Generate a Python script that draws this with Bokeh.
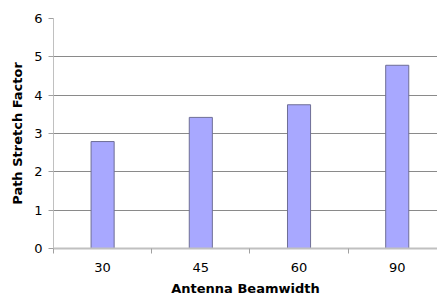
from bokeh.plotting import figure
from bokeh.models import FixedTicker, Range1d, ColumnDataSource
from bokeh.embed import file_html
from bokeh.resources import INLINE

categories = ["30", "45", "60", "90"]
stretch = [2.79, 3.42, 3.75, 4.78]
y_ticks = [0, 1, 2, 3, 4, 5, 6]

xpos = [i + 0.5 for i in range(len(categories))]
src = ColumnDataSource(dict(x=xpos, top=stretch))

W, H = 437, 298
p = figure(width=W, height=H, output_backend="svg", toolbar_location=None,
           x_range=Range1d(0, 3.91), y_range=Range1d(0, 6),
           min_border_left=53, min_border_top=18, min_border_bottom=50, min_border_right=0)
p.outline_line_color = None
p.background_fill_color = "white"
p.border_fill_color = "white"

p.vbar(x="x", top="top", width=0.235, bottom=0, source=src,
       fill_color="#a8a8ff", line_color="#6e6e96", line_width=1)

font = "DejaVu Sans"
xa = p.xaxis[0]
xa.ticker = FixedTicker(ticks=xpos, minor_ticks=list(range(len(categories) + 1)))
xa.major_label_overrides = {x: c for x, c in zip(xpos, categories)}
xa.major_tick_out = 0
xa.major_tick_in = 0
xa.minor_tick_out = 5
xa.minor_tick_in = 0
xa.minor_tick_line_color = "#a0a0a0"
xa.axis_line_color = "#c0c0c0"
xa.axis_line_width = 2
xa.major_label_text_font = font
xa.major_label_text_font_size = "13px"
xa.major_label_text_color = "black"
xa.major_label_standoff = 9
xa.axis_label = "Antenna Beamwidth"
xa.axis_label_text_font = font
xa.axis_label_text_font_size = "13px"
xa.axis_label_text_font_style = "bold"
xa.axis_label_text_color = "black"
xa.axis_label_standoff = 6

ya = p.yaxis[0]
ya.ticker = FixedTicker(ticks=y_ticks)
ya.minor_tick_line_color = None
ya.major_tick_out = 5
ya.major_tick_in = 0
ya.major_tick_line_color = "#a0a0a0"
ya.axis_line_color = "#c0c0c0"
ya.axis_line_width = 1
ya.major_label_text_font = font
ya.major_label_text_font_size = "13px"
ya.major_label_text_color = "black"
ya.major_label_standoff = 6
ya.axis_label = "Path Stretch Factor"
ya.axis_label_text_font = font
ya.axis_label_text_font_size = "13px"
ya.axis_label_text_font_style = "bold"
ya.axis_label_text_color = "black"
ya.axis_label_standoff = 6

p.xgrid.grid_line_color = None
p.ygrid.ticker = FixedTicker(ticks=y_ticks[1:])
p.ygrid.grid_line_color = "#8a8a8a"
p.ygrid.grid_line_width = 1

open("out.html", "w").write(file_html(p, INLINE))
